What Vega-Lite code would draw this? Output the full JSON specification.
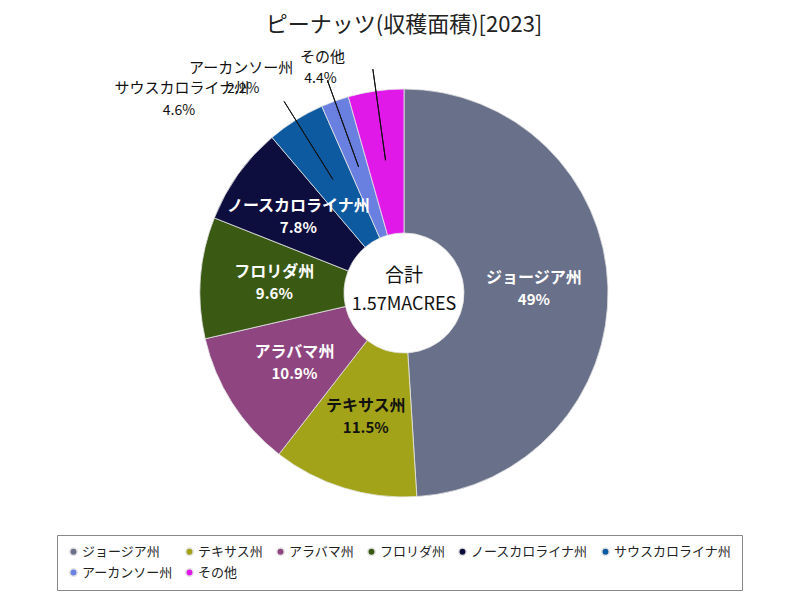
{
  "$schema": "https://vega.github.io/schema/vega-lite/v6.json",
  "width": 792,
  "height": 506,
  "autosize": {"type": "none"},
  "padding": {"left": 8, "top": 40, "right": 0, "bottom": 54},
  "background": "white",
  "title": {"text": "ピーナッツ(収穫面積)[2023]", "fontSize": 22, "font": "Noto Sans CJK JP", "fontWeight": "normal", "color": "#222222", "offset": 3},
  "config": {"view": {"stroke": null}},
  "datasets": {
    "states": [
      {"idx": 1, "name": "ジョージア州", "share": 49.0, "pct": "49%"},
      {"idx": 2, "name": "テキサス州", "share": 11.5, "pct": "11.5%"},
      {"idx": 3, "name": "アラバマ州", "share": 10.9, "pct": "10.9%"},
      {"idx": 4, "name": "フロリダ州", "share": 9.6, "pct": "9.6%"},
      {"idx": 5, "name": "ノースカロライナ州", "share": 7.8, "pct": "7.8%"},
      {"idx": 6, "name": "サウスカロライナ州", "share": 4.6, "pct": "4.6%"},
      {"idx": 7, "name": "アーカンソー州", "share": 2.2, "pct": "2.2%"},
      {"idx": 8, "name": "その他", "share": 4.4, "pct": "4.4%"}
    ],
    "total": [{"caption": "合計", "value": "1.57MACRES"}]
  },
  "layer": [
    {
      "data": {"name": "states"},
      "mark": {"type": "arc", "innerRadius": 60, "outerRadius": 204, "stroke": "#e4e4e4", "strokeWidth": 0.8},
      "encoding": {
        "theta": {"field": "share", "type": "quantitative", "stack": true},
        "order": {"field": "idx", "type": "quantitative"},
        "color": {
          "field": "name", "type": "nominal", "sort": null,
          "scale": {
            "domain": ["ジョージア州", "テキサス州", "アラバマ州", "フロリダ州", "ノースカロライナ州", "サウスカロライナ州", "アーカンソー州", "その他"],
            "range": ["#697089", "#a3a31a", "#8f4580", "#3a5a14", "#0e0e3e", "#0e5aa0", "#6a80e0", "#e018e8"]
          },
          "legend": {
            "title": null, "orient": "none", "legendX": 49, "legendY": 495,
            "direction": "horizontal", "columns": 6, "symbolType": "circle", "symbolSize": 55,
            "labelFont": "Noto Sans CJK JP", "labelFontSize": 13, "labelColor": "#222222",
            "strokeColor": "#888888", "padding": 10, "columnPadding": 9, "rowPadding": 6,
            "symbolOffset": 0, "labelOffset": 2
          }
        }
      }
    },
    {
      "data": {"name": "states"},
      "mark": {"type": "arc", "innerRadius": 134, "outerRadius": 226, "padAngle": 0.6, "fill": null, "stroke": "#111111", "strokeWidth": 1},
      "encoding": {
        "theta": {"field": "share", "type": "quantitative", "stack": true},
        "order": {"field": "idx", "type": "quantitative"},
        "detail": {"field": "name"},
        "strokeOpacity": {"condition": {"test": "datum.share < 5", "value": 1}, "value": 0}
      }
    },
    {
      "data": {"name": "states"},
      "mark": {"type": "text", "radius": 130, "dy": -11, "font": "Noto Sans CJK JP", "fontSize": 16, "fontWeight": "bold"},
      "encoding": {
        "theta": {"field": "share", "type": "quantitative", "stack": true},
        "order": {"field": "idx", "type": "quantitative"},
        "detail": {"field": "name"},
        "text": {"condition": {"test": "datum.share >= 5", "field": "name"}, "value": ""},
        "color": {"condition": {"test": "datum.name === 'テキサス州'", "value": "#111111"}, "value": "white"}
      }
    },
    {
      "data": {"name": "states"},
      "mark": {"type": "text", "radius": 130, "dy": 11, "font": "Noto Sans CJK JP", "fontSize": 15, "fontWeight": "bold"},
      "encoding": {
        "theta": {"field": "share", "type": "quantitative", "stack": true},
        "order": {"field": "idx", "type": "quantitative"},
        "detail": {"field": "name"},
        "text": {"condition": {"test": "datum.share >= 5", "field": "pct"}, "value": ""},
        "color": {"condition": {"test": "datum.name === 'テキサス州'", "value": "#111111"}, "value": "white"}
      }
    },
    {
      "data": {"name": "states"},
      "mark": {"type": "text", "radius": 215, "dx": -108, "dy": -23, "font": "Noto Sans CJK JP", "fontSize": 15, "color": "#111111"},
      "encoding": {
        "theta": {"field": "share", "type": "quantitative", "stack": true},
        "order": {"field": "idx", "type": "quantitative"},
        "detail": {"field": "name"},
        "text": {"condition": {"test": "datum.name === 'サウスカロライナ州'", "field": "name"}, "value": ""}
      }
    },
    {
      "data": {"name": "states"},
      "mark": {"type": "text", "radius": 215, "dx": -111, "dy": 0, "font": "Noto Sans CJK JP", "fontSize": 14, "color": "#111111"},
      "encoding": {
        "theta": {"field": "share", "type": "quantitative", "stack": true},
        "order": {"field": "idx", "type": "quantitative"},
        "detail": {"field": "name"},
        "text": {"condition": {"test": "datum.name === 'サウスカロライナ州'", "field": "pct"}, "value": ""}
      }
    },
    {
      "data": {"name": "states"},
      "mark": {"type": "text", "radius": 215, "dx": -90, "dy": -23, "font": "Noto Sans CJK JP", "fontSize": 15, "color": "#111111"},
      "encoding": {
        "theta": {"field": "share", "type": "quantitative", "stack": true},
        "order": {"field": "idx", "type": "quantitative"},
        "detail": {"field": "name"},
        "text": {"condition": {"test": "datum.name === 'アーカンソー州'", "field": "name"}, "value": ""}
      }
    },
    {
      "data": {"name": "states"},
      "mark": {"type": "text", "radius": 215, "dx": -88, "dy": -2, "font": "Noto Sans CJK JP", "fontSize": 14, "color": "#111111"},
      "encoding": {
        "theta": {"field": "share", "type": "quantitative", "stack": true},
        "order": {"field": "idx", "type": "quantitative"},
        "detail": {"field": "name"},
        "text": {"condition": {"test": "datum.name === 'アーカンソー州'", "field": "pct"}, "value": ""}
      }
    },
    {
      "data": {"name": "states"},
      "mark": {"type": "text", "radius": 215, "dx": -52, "dy": -23, "font": "Noto Sans CJK JP", "fontSize": 15, "color": "#111111"},
      "encoding": {
        "theta": {"field": "share", "type": "quantitative", "stack": true},
        "order": {"field": "idx", "type": "quantitative"},
        "detail": {"field": "name"},
        "text": {"condition": {"test": "datum.name === 'その他'", "field": "name"}, "value": ""}
      }
    },
    {
      "data": {"name": "states"},
      "mark": {"type": "text", "radius": 215, "dx": -54, "dy": -1, "font": "Noto Sans CJK JP", "fontSize": 14, "color": "#111111"},
      "encoding": {
        "theta": {"field": "share", "type": "quantitative", "stack": true},
        "order": {"field": "idx", "type": "quantitative"},
        "detail": {"field": "name"},
        "text": {"condition": {"test": "datum.name === 'その他'", "field": "pct"}, "value": ""}
      }
    },
    {
      "data": {"name": "total"},
      "mark": {"type": "text", "dy": -17, "font": "Noto Sans CJK JP", "fontSize": 19, "color": "#111111"},
      "encoding": {"text": {"field": "caption"}}
    },
    {
      "data": {"name": "total"},
      "mark": {"type": "text", "dy": 12, "font": "Noto Sans CJK JP", "fontSize": 18, "color": "#111111"},
      "encoding": {"text": {"field": "value"}}
    }
  ]
}
